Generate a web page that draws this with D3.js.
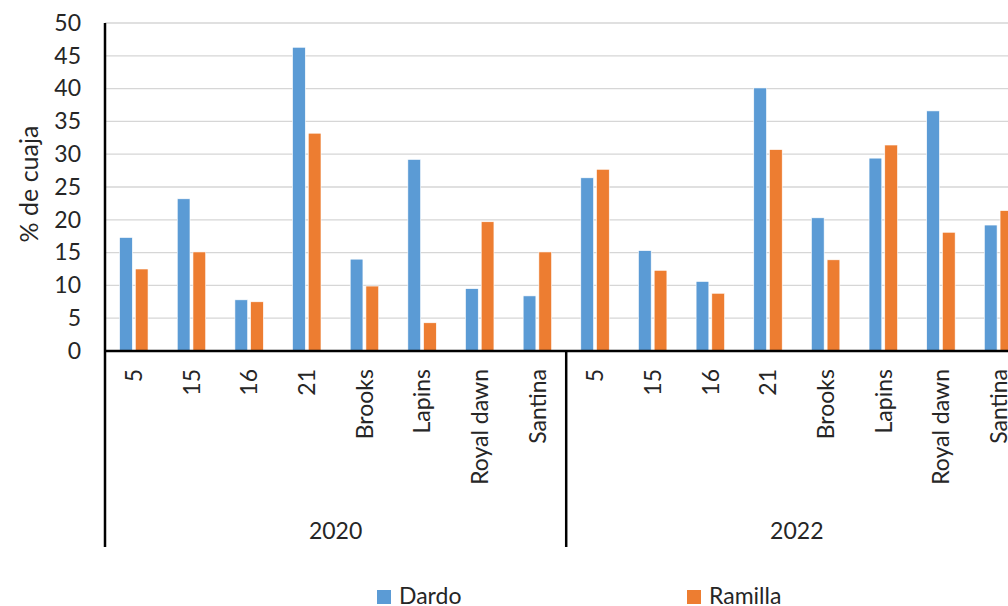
<!DOCTYPE html>
<html>
<head>
<meta charset="utf-8">
<script src="https://cdn.jsdelivr.net/npm/d3@7/dist/d3.min.js"></script>
<style>
html,body{margin:0;padding:0;background:#fff;overflow:hidden;}
svg{display:block;}
text{font-family:Lato, "Open Sans", sans-serif;fill:#262626;}
</style>
</head>
<body>
<svg id="chart" width="1008" height="606"></svg>
<script>
const years = ["2020", "2022"];
const categories = ["5", "15", "16", "21", "Brooks", "Lapins", "Royal dawn", "Santina"];
const seriesNames = ["Dardo", "Ramilla"];
const dardo2020 = [17.3, 23.2, 7.8, 46.3, 14.0, 29.2, 9.5, 8.4];
const ramilla2020 = [12.5, 15.1, 7.5, 33.2, 9.9, 4.3, 19.7, 15.1];
const dardo2022 = [26.4, 15.3, 10.6, 40.1, 20.3, 29.4, 36.6, 19.2];
const ramilla2022 = [27.7, 12.3, 8.8, 30.7, 13.9, 31.4, 18.1, 21.4];
const yTicks = [0, 5, 10, 15, 20, 25, 30, 35, 40, 45, 50];
const yTitle = "% de cuaja";

const colors = {Dardo: "#5b9bd5", Ramilla: "#ed7d31"};
const valuesBy = {
  "2020": {Dardo: dardo2020, Ramilla: ramilla2020},
  "2022": {Dardo: dardo2022, Ramilla: ramilla2022}
};

const rows = [];
years.forEach(yr => categories.forEach((c, i) => {
  rows.push({key: yr + "|" + c, year: yr, cat: c, Dardo: valuesBy[yr].Dardo[i], Ramilla: valuesBy[yr].Ramilla[i]});
}));

const svg = d3.select("#chart");
const plotLeft = 105, plotRight = 1027.4, plotTop = 23, plotBottom = 351, axisBottom = 547;

const x = d3.scaleBand().domain(rows.map(r => r.key)).range([plotLeft, plotRight]).padding(0);
const xs = d3.scaleBand().domain(seriesNames).range([0, x.bandwidth()]).paddingInner(0.19).paddingOuter(0.93);
const y = d3.scaleLinear().domain([0, 50]).range([plotBottom, plotTop]);
const yearScale = d3.scaleBand().domain(years).range([plotLeft, plotRight]);

// gridlines
svg.append("g")
  .selectAll("line").data(yTicks.filter(t => t > 0)).join("line")
  .attr("x1", plotLeft).attr("x2", plotRight + 20)
  .attr("y1", d => y(d)).attr("y2", d => y(d))
  .attr("stroke", "#d6d6d6").attr("stroke-width", 1.3);

// bars
const g = svg.append("g");
rows.forEach(r => {
  seriesNames.forEach(s => {
    g.append("rect")
      .attr("x", x(r.key) + xs(s))
      .attr("y", y(r[s]))
      .attr("width", xs.bandwidth())
      .attr("height", y(0) - y(r[s]))
      .attr("fill", colors[s])
      .attr("stroke", "#ffffff").attr("stroke-width", 0.6);
  });
});

// y axis labels
const yAxis = d3.axisLeft(y).tickValues(yTicks).tickSize(0).tickPadding(24);
const ya = svg.append("g").attr("transform", `translate(${plotLeft},0)`).call(yAxis);
ya.select(".domain").remove();
ya.selectAll("text").attr("font-size", 23).attr("font-family", "Lato").attr("fill", "#262626");

// axis lines
svg.append("line").attr("x1", plotLeft).attr("x2", plotLeft).attr("y1", plotTop).attr("y2", axisBottom)
  .attr("stroke", "#000").attr("stroke-width", 2.5);
svg.append("line").attr("x1", plotLeft).attr("x2", plotRight + 20).attr("y1", plotBottom).attr("y2", plotBottom)
  .attr("stroke", "#000").attr("stroke-width", 2.5);
years.forEach((yr, i) => {
  if (i > 0) {
    svg.append("line").attr("x1", yearScale(yr)).attr("x2", yearScale(yr)).attr("y1", plotBottom).attr("y2", axisBottom)
      .attr("stroke", "#000").attr("stroke-width", 2.5);
  }
});
svg.append("line").attr("x1", plotRight).attr("x2", plotRight).attr("y1", plotBottom).attr("y2", axisBottom)
  .attr("stroke", "#000").attr("stroke-width", 2.5);

// category labels
svg.append("g").selectAll("text").data(rows).join("text")
  .attr("transform", d => `translate(${x(d.key) + x.bandwidth() / 2},369) rotate(-90)`)
  .attr("text-anchor", "end").attr("dy", "0.36em")
  .attr("font-size", 23)
  .text(d => d.cat);

// year labels
svg.append("g").selectAll("text").data(years).join("text")
  .attr("x", d => yearScale(d) + yearScale.bandwidth() / 2)
  .attr("y", 539)
  .attr("text-anchor", "middle").attr("font-size", 23)
  .text(d => d);

// y title
svg.append("text")
  .attr("transform", "translate(38,184) rotate(-90)")
  .attr("text-anchor", "middle").attr("font-size", 25)
  .text(yTitle);

// legend
const legendX = {Dardo: 377, Ramilla: 687};
seriesNames.forEach(s => {
  svg.append("rect").attr("x", legendX[s]).attr("y", 590).attr("width", 14).attr("height", 14).attr("fill", colors[s]);
  svg.append("text").attr("x", legendX[s] + 22).attr("y", 603.5).attr("font-size", 23).text(s);
});
</script>
</body>
</html>
